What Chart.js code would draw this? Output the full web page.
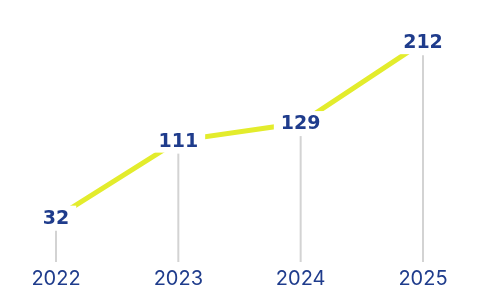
<html>
<head>
	<title>Yearly totals</title>
	<script src="https://cdn.jsdelivr.net/npm/chart.js@4.4.0/dist/chart.umd.min.js"></script>
	<style>
		html, body {
			margin: 0;
			padding: 0;
			background: #fff;
		}
		#wrap {
			width: 479px;
			height: 307px;
		}
	</style>
</head>
<body>
	<div id="wrap"><canvas id="canvas"></canvas></div>
	<script>
		const years = ['2022', '2023', '2024', '2025'];
		const totals = [32, 111, 129, 212];

		const navy = '#1f3c8c';
		const lime = '#e3ec2c';

		// stems from each point down to the axis, and value labels on top of the line
		const stemsAndLabels = {
			id: 'stemsAndLabels',
			beforeDatasetsDraw(chart) {
				const { ctx, chartArea } = chart;
				const points = chart.getDatasetMeta(0).data;
				ctx.save();
				ctx.strokeStyle = '#d3d3d3';
				ctx.lineWidth = 2;
				points.forEach((pt) => {
					ctx.beginPath();
					ctx.moveTo(pt.x, pt.y + 13);
					ctx.lineTo(pt.x, chartArea.bottom);
					ctx.stroke();
				});
				ctx.restore();
			},
			afterDatasetsDraw(chart) {
				const { ctx } = chart;
				const points = chart.getDatasetMeta(0).data;
				ctx.save();
				ctx.font = 'bold 19px "DejaVu Sans"';
				ctx.textAlign = 'center';
				ctx.textBaseline = 'middle';
				points.forEach((pt, i) => {
					const text = String(totals[i]);
					const w = ctx.measureText(text).width;
					ctx.fillStyle = '#fff';
					ctx.fillRect(pt.x - w / 2 - 7, pt.y - 12, w + 14, 24);
					ctx.fillStyle = navy;
					ctx.fillText(text, pt.x, pt.y + 1);
				});
				ctx.restore();
			},
		};

		new Chart(document.getElementById('canvas'), {
			type: 'line',
			data: {
				labels: years,
				datasets: [{
					data: totals,
					borderColor: lime,
					borderWidth: 5,
					pointRadius: 0,
					tension: 0,
				}],
			},
			options: {
				responsive: true,
				maintainAspectRatio: false,
				animation: false,
				layout: {
					padding: { left: 56, right: 56, top: 10, bottom: 11 },
				},
				scales: {
					x: {
						offset: false,
						grid: { display: false, drawTicks: false },
						border: { display: false },
						ticks: {
							color: navy,
							padding: 5,
							font: { family: 'Inter', size: 20 },
						},
					},
					y: {
						display: false,
						min: -13.5,
						max: 245,
					},
				},
				plugins: {
					legend: { display: false },
					tooltip: { enabled: false },
				},
			},
			plugins: [stemsAndLabels],
		});
	</script>
</body>
</html>
